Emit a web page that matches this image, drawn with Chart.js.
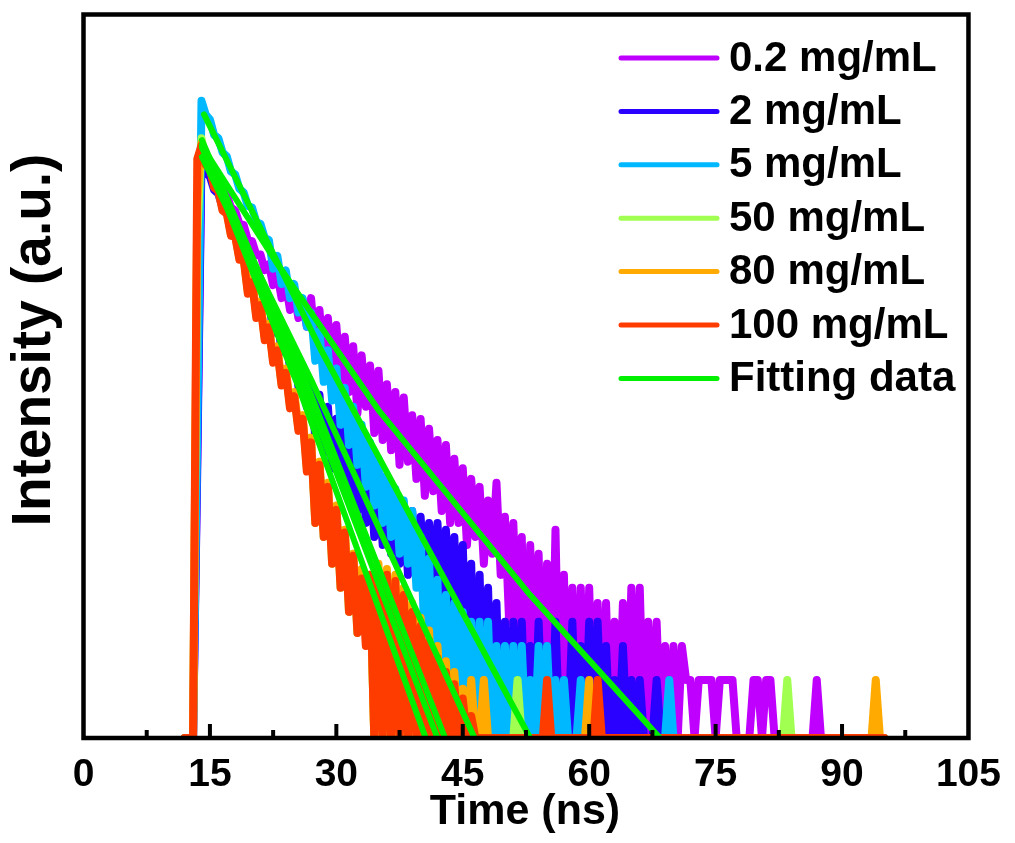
<!DOCTYPE html>
<html>
<head>
<meta charset="utf-8">
<script src="https://cdn.jsdelivr.net/npm/chart.js@4.4.1/dist/chart.umd.min.js"></script>
<style>
html,body{margin:0;padding:0;background:#fff;}
canvas{display:block;}
</style>
</head>
<body>
<canvas id="c" width="1015" height="843"></canvas>
<script>
// ---------------- DATA ----------------
// time bins (ns): first bin and bin width
const timeStart = 12.0;
const timeStep = 0.5;
const xTicks = [0, 15, 30, 45, 60, 75, 90, 105];
const seriesLabels = ['0.2 mg/mL', '2 mg/mL', '5 mg/mL', '50 mg/mL', '80 mg/mL', '100 mg/mL'];
const fitLabel = 'Fitting data';

// PL decay counts, one value per time bin (12.0 ns ... 95.0 ns)
const conc0_2 = [
  1, 1, 1, 30, 1120, 1000, 915, 830, 760, 690,
  650, 560, 540, 460, 455, 380, 375, 318, 320, 265,
  285, 222, 252, 190, 225, 165, 200, 150, 175, 135,
  190, 105, 165, 88, 150, 80, 138, 70, 120, 62,
  107, 48, 96, 52, 85, 38, 80, 35, 68, 31,
  62, 26, 58, 27, 47, 22, 45, 18, 40, 19,
  35, 15, 33, 13, 28, 13, 25, 10, 22, 11,
  20, 8, 17, 9, 21, 7, 14, 4, 13, 3,
  11, 1, 10, 2, 9, 1, 8, 1, 12, 1,
  7, 1, 6, 1, 6, 1, 6, 1, 5, 1,
  5, 1, 4, 1, 5, 1, 6, 1, 6, 1,
  4, 1, 4, 1, 3, 1, 3, 1, 3, 2,
  2, 1, 2, 2, 2, 2, 1, 2, 2, 2,
  2, 1, 1, 1, 1, 2, 2, 1, 2, 2,
  1, 1, 1, 1, 1, 1, 1, 1, 1, 1,
  2, 1, 1, 1, 1, 1, 1, 1, 1, 1,
  1, 1, 1, 1, 1, 1, 1
];
const conc2 = [
  1, 1, 1, 25, 1000, 850, 810, 690, 660, 560,
  540, 450, 440, 370, 360, 300, 290, 230, 235, 175,
  190, 125, 155, 100, 128, 82, 104, 66, 85, 52,
  69, 36, 60, 30, 52, 25, 45, 22, 39, 18,
  34, 15, 29, 13, 25, 11, 22, 10, 19, 9,
  17, 8, 16, 7, 15, 7, 14, 6, 13, 6,
  13, 5, 12, 5, 11, 3, 10, 2, 8, 1,
  7, 1, 6, 1, 5, 1, 4, 1, 4, 1,
  4, 1, 3, 1, 4, 1, 3, 1, 4, 1,
  2, 1, 4, 1, 3, 1, 4, 1, 4, 1,
  3, 1, 2, 1, 3, 1, 2, 1, 2, 1,
  1, 1, 2, 1, 1, 1, 1, 1, 1, 1,
  1, 1, 1, 1, 1, 1, 1, 1, 1, 1,
  1, 1, 1, 1, 1, 1, 1, 1, 1, 1,
  1, 1, 1, 1, 1, 1, 1, 1, 1, 1,
  1, 1, 1, 1, 1, 1, 1, 1, 1, 1,
  1, 1, 1, 1, 1, 1, 1
];
const conc5 = [
  1, 1, 1, 40, 2000, 1700, 1600, 1330, 1280, 1080,
  1030, 860, 830, 700, 670, 570, 560, 470, 460, 390,
  380, 270, 315, 225, 265, 190, 225, 160, 190, 135,
  160, 90, 128, 70, 102, 56, 82, 42, 65, 33,
  52, 26, 42, 20, 34, 16, 28, 13, 23, 11,
  19.5, 9, 17, 8, 15, 6, 11, 3, 8.5, 2,
  6.6, 1, 5.5, 1, 5, 1, 4.5, 1, 4, 1,
  4, 1, 4, 1, 3, 1, 3, 1, 3, 1,
  3, 1, 2, 1, 3, 1, 3, 1, 2, 1,
  2, 1, 1, 1, 2, 1, 1, 1, 1, 1,
  1, 1, 1, 1, 1, 1, 1, 1, 1, 1,
  1, 1, 1, 1, 1, 2, 1, 1, 1, 1,
  1, 1, 1, 1, 1, 1, 1, 1, 1, 1,
  1, 1, 1, 1, 1, 1, 1, 1, 1, 1,
  1, 1, 1, 1, 1, 1, 1, 1, 1, 1,
  1, 1, 1, 1, 1, 1, 1, 1, 1, 1,
  1, 1, 1, 1, 1, 1, 1
];
const conc50 = [
  1, 1, 1, 400, 1280, 950, 910, 730, 690, 550,
  530, 405, 400, 305, 308, 205, 235, 155, 178, 118,
  137, 90, 104, 68, 80, 52, 60, 40, 46, 25,
  35, 13, 27, 11, 20, 8, 15.5, 6, 11.8, 4.5,
  9, 3.5, 7, 4, 6.5, 1, 7.2, 1, 7, 1,
  6.8, 1, 6, 1, 4.8, 1, 4, 1, 3.4, 1,
  2.8, 1, 2.3, 1, 2, 1, 1.7, 1, 1.4, 1,
  1, 1, 1, 1, 1, 1, 1, 1, 1, 2,
  1, 1, 1, 1, 1, 1, 1, 1, 1, 1,
  1, 1, 1, 1, 1, 1, 1, 1, 1, 1,
  1, 1, 1, 1, 1, 1, 1, 1, 1, 1,
  1, 1, 1, 1, 1, 1, 1, 1, 1, 1,
  1, 1, 1, 1, 1, 1, 1, 1, 1, 1,
  1, 1, 1, 1, 1, 1, 1, 1, 1, 1,
  1, 1, 1, 2, 1, 1, 1, 1, 1, 1,
  1, 1, 1, 1, 1, 1, 1, 1, 1, 1,
  1, 1, 1, 1, 1, 1, 1
];
const conc80 = [
  1, 1, 1, 600, 1210, 960, 920, 740, 700, 560,
  540, 415, 410, 310, 315, 210, 240, 158, 182, 120,
  140, 92, 107, 70, 82, 54, 62, 41, 47, 26,
  36, 14, 27, 12, 21, 9, 16, 6.5, 12, 5,
  9, 4, 7.5, 3.5, 7, 1, 8, 1, 7.5, 1,
  7, 1, 6, 1, 5, 1, 4.2, 1, 3.6, 1,
  3, 1, 2.5, 1, 2.2, 1, 1.8, 1, 2, 1,
  1, 2, 1, 1, 1, 1, 1, 1, 1, 1,
  1, 1, 1, 1, 1, 1, 1, 1, 1, 1,
  1, 1, 1, 1, 1, 1, 2, 1, 1, 1,
  1, 1, 1, 1, 1, 1, 1, 1, 1, 1,
  1, 1, 1, 1, 1, 1, 1, 1, 1, 1,
  1, 1, 1, 1, 1, 1, 1, 1, 1, 1,
  1, 1, 1, 1, 1, 1, 1, 1, 1, 1,
  1, 1, 1, 1, 1, 1, 1, 1, 1, 1,
  1, 1, 1, 1, 1, 1, 1, 1, 1, 1,
  1, 1, 1, 1, 2, 1, 1
];
const conc100 = [
  1, 1, 1, 1000, 1175, 930, 895, 710, 682, 540,
  520, 400, 396, 300, 302, 200, 230, 150, 175, 115,
  134, 88, 102, 67, 78, 51, 59, 39, 45, 24,
  34, 13, 26, 11, 20, 8, 15.2, 6, 11.6, 4.5,
  8.8, 3.5, 6.7, 3, 7, 1, 7, 1, 7, 1,
  6.5, 1, 5.5, 1, 4.5, 1, 3.8, 1, 3.2, 1,
  2.6, 1, 2.2, 1, 1.9, 1, 1.6, 1, 1.3, 1,
  1, 1, 1, 1, 1, 1, 1, 1, 1, 1,
  1, 1, 1, 1, 1, 1, 2, 1, 1, 1,
  1, 1, 1, 1, 1, 1, 1, 1, 2, 1,
  1, 1, 1, 1, 1, 1, 1, 1, 1, 1,
  1, 1, 1, 1, 1, 1, 1, 1, 1, 1,
  1, 1, 1, 1, 1, 1, 1, 1, 1, 1,
  1, 1, 1, 1, 1, 1, 1, 1, 1, 1,
  1, 1, 1, 1, 1, 1, 1, 1, 1, 1,
  1, 1, 1, 1, 1, 1, 1, 1, 1, 1,
  1, 1, 1, 1, 1, 1, 1
];

// fitted decay curves: [time (ns), intensity]
const fit0_2 = [[14.2, 1140], [23.1, 282], [35.0, 50], [53.0, 5.5], [68.4, 1]];
const fit2   = [[14.05, 1025], [27.0, 72], [46.4, 1]];
const fit5   = [[14.3, 1700], [28.2, 102], [53.0, 1]];
const fit50  = [[14.05, 1150], [26.0, 68], [42.0, 1]];
const fit80  = [[14.05, 1250], [26.3, 72], [42.9, 1]];
const fit100 = [[14.05, 1180], [25.5, 66], [40.6, 1]];

// ---------------- STYLE ----------------
const FONT = "'Liberation Sans', Arial, Helvetica, sans-serif";
const seriesColors = ['#BF00FF', '#2A00FF', '#00B8FF', '#A0FF50', '#FFAA00', '#FF3C00'];
const fitColor = '#00F000';
const seriesValues = [conc0_2, conc2, conc5, conc50, conc80, conc100];
const fitValues = [fit0_2, fit2, fit5, fit50, fit80, fit100];
const drawOrder = [6, 5, 4, 3, 2, 1];
const lineClip = { left: 4, top: 4, right: 4, bottom: 0 };

function toPoints(values) {
  return values.map((v, i) => ({ x: +(timeStart + i * timeStep).toFixed(3), y: v }));
}
function pairsToPoints(pairs) {
  return pairs.map(p => ({ x: p[0], y: p[1] }));
}

const datasets = [];
seriesValues.forEach((vals, i) => {
  datasets.push({
    label: seriesLabels[i],
    data: toPoints(vals),
    borderColor: seriesColors[i],
    backgroundColor: seriesColors[i],
    borderWidth: 8,
    pointRadius: 0,
    borderCapStyle: 'round',
    borderJoinStyle: 'round',
    tension: 0,
    clip: lineClip,
    order: drawOrder[i]
  });
});
fitValues.forEach((pairs) => {
  datasets.push({
    label: fitLabel,
    data: pairsToPoints(pairs),
    borderColor: fitColor,
    backgroundColor: fitColor,
    borderWidth: 6,
    pointRadius: 0,
    borderCapStyle: 'round',
    borderJoinStyle: 'round',
    tension: 0,
    clip: lineClip,
    order: 0
  });
});

const decorPlugin = {
  id: 'decor',
  afterDatasetsDraw(chart) {
    const { ctx, chartArea: a, scales } = chart;
    const x = scales.x;
    ctx.save();
    // frame
    ctx.strokeStyle = '#000';
    ctx.lineWidth = 4.5;
    ctx.strokeRect(a.left, a.top, a.right - a.left, a.bottom - a.top);
    // inward tick marks
    ctx.lineWidth = 4;
    ctx.lineCap = 'butt';
    for (let i = 0; i < xTicks.length; i++) {
      const v = xTicks[i];
      if (v > x.min && v < x.max) {
        const px = x.getPixelForValue(v);
        ctx.beginPath(); ctx.moveTo(px, a.bottom); ctx.lineTo(px, a.bottom - 14); ctx.stroke();
      }
      if (i < xTicks.length - 1) {
        const pm = x.getPixelForValue((xTicks[i] + xTicks[i + 1]) / 2);
        ctx.beginPath(); ctx.moveTo(pm, a.bottom); ctx.lineTo(pm, a.bottom - 8); ctx.stroke();
      }
    }
    // legend
    const seen = new Set();
    const items = [];
    chart.data.datasets.forEach(ds => {
      if (!seen.has(ds.label)) { seen.add(ds.label); items.push(ds); }
    });
    ctx.font = 'bold 42px ' + FONT;
    ctx.textBaseline = 'middle';
    ctx.textAlign = 'left';
    items.forEach((ds, i) => {
      const y = 58 + i * 53.4;
      ctx.strokeStyle = ds.borderColor;
      ctx.lineWidth = 5;
      ctx.lineCap = 'round';
      ctx.beginPath(); ctx.moveTo(621, y); ctx.lineTo(717, y); ctx.stroke();
      ctx.fillStyle = '#000';
      ctx.fillText(ds.label, 729, y + 1);
    });
    // axis titles
    ctx.fillStyle = '#000';
    ctx.textAlign = 'center';
    ctx.font = 'bold 43px ' + FONT;
    ctx.fillText('Time (ns)', 525, 812);
    ctx.translate(35, 340);
    ctx.rotate(-Math.PI / 2);
    ctx.font = 'bold 55px ' + FONT;
    ctx.fillText('Intensity (a.u.)', 0, 0);
    ctx.restore();
  }
};

new Chart(document.getElementById('c'), {
  type: 'line',
  data: { datasets },
  options: {
    responsive: false,
    animation: false,
    devicePixelRatio: 1,
    layout: { padding: { top: 14.5, right: 40, left: 0, bottom: 0 } },
    plugins: { legend: { display: false }, tooltip: { enabled: false } },
    scales: {
      x: {
        type: 'linear',
        min: 0, max: 105,
        bounds: 'data',
        afterBuildTicks: s => { s.ticks = xTicks.map(v => ({ value: v })); },
        afterFit: s => { s.height = 105; },
        grid: { display: false, drawTicks: false },
        border: { display: false },
        ticks: {
          autoSkip: false, maxRotation: 0, minRotation: 0, padding: 14,
          color: '#000',
          font: { family: FONT, size: 39, weight: 'bold' }
        }
      },
      y: {
        type: 'logarithmic',
        min: 1, max: 5600,
        bounds: 'data',
        afterFit: s => { s.width = 83.5; },
        grid: { display: false, drawTicks: false },
        border: { display: false },
        ticks: { display: false }
      }
    }
  },
  plugins: [decorPlugin]
});
</script>
</body>
</html>
